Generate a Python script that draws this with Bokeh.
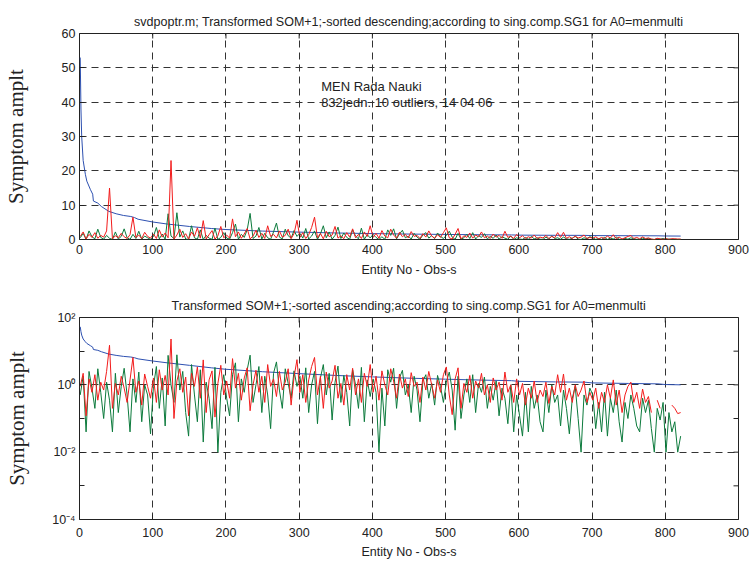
import math

from bokeh.embed import file_html
from bokeh.layouts import column
from bokeh.models import FixedTicker, Label, Range1d
from bokeh.plotting import figure
from bokeh.resources import INLINE

# ---------------------------------------------------------------- data
# entity numbers of the sampled observations
entity = list(range(1, 822, 4))

# first singular component, sorted descending
sg1_x = [1, 2, 3, 5, 8, 10, 15, 18, 19, 25, 30, 40, 50, 60, 70, 75, 80, 100, 120,
         150, 180, 200, 250, 300, 350, 400, 450, 500, 550, 590, 600, 650, 690,
         700, 750, 790, 800, 821]
sg1 = [53, 38, 30, 23, 19, 17, 14.5, 13.2, 11.2, 10.6, 9.6, 8.2, 7.5, 7.0, 6.7,
       6.4, 5.9, 5.1, 4.5, 3.8, 3.2, 2.9, 2.45, 2.15, 1.9, 1.72, 1.58, 1.47,
       1.38, 1.33, 1.27, 1.22, 1.2, 1.14, 1.1, 1.07, 1.02, 1.0]

# second component (green)
sg2 = [
    0.5, 1.8, 0.04, 2.5, 0.8, 0.2, 3.0, 0.6, 0.1, 1.2, 0.35, 0.04, 2.2, 0.15, 0.9,
    3.1, 0.5, 0.04, 1.5, 0.3, 2.4, 0.08, 1.0, 0.5, 0.035,
    0.9, 3.5, 0.2, 1.6, 0.06, 7.5, 1.0, 0.3, 7.8, 0.7, 2.5, 0.15, 0.03, 4.0, 0.5,
    0.08, 2.8, 0.02, 1.2, 0.4, 0.05, 3.3, 0.01, 0.6, 2.0,
    0.4, 0.12, 2.0, 4.5, 0.08, 1.5, 0.6, 2.8, 7.6, 0.3, 1.0, 3.5, 0.15, 1.8, 0.5,
    0.05, 2.2, 4.8, 0.7, 0.2, 3.0, 1.1, 0.4, 2.6, 0.9,
    1.8, 0.4, 3.2, 0.15, 1.0, 2.5, 0.07, 1.6, 4.0, 0.5, 2.2, 0.09, 1.2, 3.6, 0.3,
    1.9, 0.6, 0.06, 2.8, 1.0, 0.2, 3.3, 0.08, 1.4, 0.45,
    1.5, 0.6, 0.01, 0.8, 0.06, 2.8, 1.2, 3.1, 0.2, 1.6, 2.7, 0.5, 1.0, 0.15, 1.8,
    0.7, 0.08, 1.3, 2.0, 0.4, 1.1, 0.25, 1.9, 0.9, 0.3,
    1.2, 2.4, 0.7, 0.045, 1.8, 0.1, 0.5, 1.5, 0.3, 2.0, 0.15, 1.1, 0.6, 1.7, 0.2,
    0.9, 0.35, 1.3, 0.12, 0.8, 0.4, 0.07, 1.0, 0.04, 0.5,
    0.12, 0.03, 0.6, 0.04, 0.9, 0.2, 0.5, 0.08, 0.04, 0.7, 0.15, 1.0, 0.3, 0.5,
    0.06, 0.7, 0.2, 0.035, 0.4, 0.9, 0.1, 0.01, 0.5, 0.25, 0.8,
    0.5, 0.05, 0.3, 0.04, 0.6, 0.03, 0.4, 0.15, 0.7, 0.08, 0.02, 0.3, 0.1, 0.5,
    0.2, 0.06, 0.04, 0.4, 0.15, 0.35, 0.05, 0.01, 0.2, 0.09, 0.3,
    0.01, 0.15, 0.04, 0.08, 0.01, 0.03,
]

# third component (red)
sg3 = [
    0.9, 2.2, 0.12, 1.5, 0.6, 2.0, 0.35, 1.2, 0.7, 2.5, 15, 0.2, 1.1, 0.5, 1.8,
    0.8, 0.3, 1.4, 6.5, 0.6, 1.3, 0.25, 2.1, 0.9, 0.4,
    1.6, 0.3, 2.8, 0.7, 1.9, 0.5, 23, 0.1, 1.3, 3.0, 0.6, 1.7, 0.12, 2.2, 0.9,
    3.4, 0.4, 5.5, 0.15, 1.4, 2.6, 0.11, 1.1, 3.8, 0.5,
    1.3, 0.4, 6.0, 0.8, 2.2, 0.35, 1.6, 3.2, 0.17, 1.0, 2.7, 0.6, 1.8, 0.3, 4.0,
    0.9, 1.5, 0.45, 2.5, 0.7, 1.2, 3.0, 0.25, 1.7, 5.6,
    0.6, 2.0, 0.3, 1.4, 3.5, 6.5, 0.5, 1.8, 0.2, 2.4, 0.8, 1.3, 3.8, 0.4, 1.1,
    0.25, 2.0, 0.7, 3.1, 0.5, 1.5, 0.3, 2.2, 0.9, 4.0,
    0.6, 1.8, 0.35, 2.6, 1.0, 0.5, 3.0, 1.3, 0.4, 2.1, 0.8, 1.5, 0.45, 2.3, 0.9,
    1.2, 0.3, 1.7, 0.7, 2.5, 1.0, 0.4, 1.4, 0.6, 2.0,
    3.4, 0.5, 0.13, 1.5, 3.2, 0.2, 1.1, 0.6, 1.9, 0.4, 1.3, 0.8, 2.2, 0.5, 1.0,
    0.3, 1.6, 0.7, 1.2, 0.35, 2.4, 0.6, 1.0, 0.3, 1.5,
    0.5, 1.1, 0.25, 0.8, 0.4, 1.3, 0.3, 0.7, 0.45, 1.2, 0.28, 0.9, 0.5, 2.0, 0.6,
    2.1, 0.35, 0.8, 0.3, 1.0, 0.45, 0.7, 1.3, 0.3, 0.6,
    0.35, 0.8, 0.2, 0.6, 0.3, 1.0, 0.4, 1.4, 0.25, 0.7, 0.15, 0.5, 0.9, 1.2, 0.3,
    0.6, 0.2, 0.75, 0.3, 0.45, 0.15, 0, 0.35, 0.2, 0,
    0.3, 0, 0.25, 0.2, 0.14, 0.15,
]

x_ticks = [0, 100, 200, 300, 400, 500, 600, 700, 800, 900]
lin_ticks = [0, 10, 20, 30, 40, 50, 60]
log_ticks = [1e-4, 1e-3, 1e-2, 1e-1, 1, 10, 100]
log_labels = {1e-4: "10\u207b\u2074", 1e-3: "", 1e-2: "10\u207b\u00b2", 1e-1: "",
              1: "10\u2070", 10: "", 100: "10\u00b2"}

title_top = ("svdpoptr.m; Transformed SOM+1;-sorted descending;"
             "according to sing.comp.SG1 for A0=menmulti")
title_bottom = ("Transformed SOM+1;-sorted ascending;"
                "according to sing.comp.SG1 for A0=menmulti")
x_label = "Entity No - Obs-s"
y_label = "Symptom amplt"
note_lines = ["MEN Rada Nauki", "832jedn. 10 outliers, 14 04 06"]

# ---------------------------------------------------------------- style
BLUE = "#2d50b0"
GREEN = "#0c7a3c"
RED = "#f21c1c"
INK = "#222222"
SANS = "Liberation Sans"
SERIF = "Liberation Serif"


def style_axis(ax, tick_standoff):
    ax.major_tick_in = 5
    ax.major_tick_out = 0
    ax.minor_tick_line_color = None
    ax.axis_line_color = None
    ax.major_tick_line_color = INK
    ax.major_label_text_font = SANS
    ax.major_label_text_font_size = "12.5px"
    ax.major_label_text_color = INK
    ax.major_label_standoff = tick_standoff


def mirror_ticks(p, x_top, y_right, y_ticks):
    # inward tick marks on the top and right edges of the box; dash markers
    # centred on the edge are clipped to the frame, leaving the inner half
    p.scatter([x_top] * len(y_ticks), y_ticks, marker="dash", size=10,
              line_color=INK, line_width=1)
    p.scatter(x_ticks, [y_right] * len(x_ticks), marker="dash", size=10,
              angle=math.pi / 2, line_color=INK, line_width=1)


def make_panel(height, border_top, border_bottom, log, title,
               title_standoff, x_standoff, xlabel_standoff):
    p = figure(width=750, height=height, output_backend="svg", toolbar_location=None,
               x_range=Range1d(0, 900),
               y_range=Range1d(1e-4, 100) if log else Range1d(0, 60),
               y_axis_type="log" if log else "linear",
               min_border_left=79, min_border_right=12,
               min_border_top=border_top, min_border_bottom=border_bottom)
    p.background_fill_color = "white"
    p.border_fill_color = "white"
    p.outline_line_color = INK
    p.outline_line_width = 1

    p.title.text = title
    p.title.text_font = SANS
    p.title.text_font_size = "12.5px"
    p.title.text_font_style = "normal"
    p.title.text_color = INK
    p.title.align = "center"
    p.title.standoff = title_standoff

    xa = p.xaxis[0]
    xa.ticker = FixedTicker(ticks=x_ticks)
    style_axis(xa, x_standoff)
    xa.axis_label = x_label
    xa.axis_label_text_font = SANS
    xa.axis_label_text_font_size = "12.5px"
    xa.axis_label_text_font_style = "normal"
    xa.axis_label_text_color = INK
    xa.axis_label_standoff = xlabel_standoff

    ya = p.yaxis[0]
    y_ticks = log_ticks if log else lin_ticks
    ya.ticker = FixedTicker(ticks=y_ticks)
    if log:
        ya.major_label_overrides = log_labels
    style_axis(ya, 4)
    mirror_ticks(p, 900, y_ticks[-1], y_ticks)

    # dashed grid on the inner ticks only
    p.xgrid.ticker = FixedTicker(ticks=x_ticks[1:-1])
    p.ygrid.ticker = FixedTicker(ticks=[1e-2, 1] if log else lin_ticks[1:-1])
    for g in (p.xgrid[0], p.ygrid[0]):
        g.grid_line_color = "#333333"
        g.grid_line_dash = "7 5"
        g.grid_line_width = 1
        g.grid_line_alpha = 1.0
    return p


def positive(values):
    return [v if v > 0 else math.nan for v in values]


# ---------------------------------------------------------------- linear panel
p1 = make_panel(283, 33, 44, False, title_top, 9, 5, 6)
p1.line(sg1_x, sg1, line_color=BLUE, line_width=1)
p1.line(entity, sg2, line_color=GREEN, line_width=1)
p1.line(entity, sg3, line_color=RED, line_width=1)
for text, y in zip(note_lines, [44.6, 39.9]):
    p1.add_layout(Label(x=330, y=y, text=text, text_font=SANS, text_font_size="13px",
                        text_color=INK, text_baseline="middle"))
p1.yaxis[0].axis_label = y_label

# ---------------------------------------------------------------- log panel
p2 = make_panel(278, 34, 39, True, title_bottom, 10, 8, 5)
p2.line(sg1_x, sg1, line_color=BLUE, line_width=1)
p2.line(entity, positive(sg2), line_color=GREEN, line_width=1)
p2.line(entity, positive(sg3), line_color=RED, line_width=1)
p2.yaxis[0].axis_label = y_label

for p, standoff in ((p1, 31), (p2, 20)):
    ya = p.yaxis[0]
    ya.axis_label_text_font = SERIF
    ya.axis_label_text_font_size = "21px"
    ya.axis_label_text_font_style = "normal"
    ya.axis_label_text_color = INK
    ya.axis_label_standoff = standoff

layout = column(p1, p2, spacing=0)
open("out.html", "w").write(file_html(layout, INLINE))
